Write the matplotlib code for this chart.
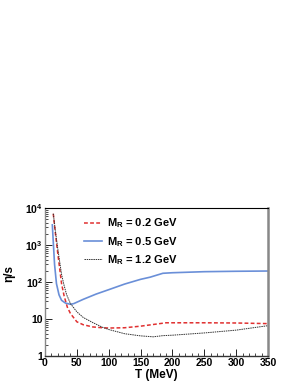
import matplotlib
matplotlib.use("Agg")
import matplotlib.pyplot as plt
import numpy as np
from matplotlib.ticker import LogLocator, NullFormatter, MultipleLocator

plt.rcParams['font.family'] = ['Liberation Sans', 'DejaVu Sans']
plt.rcParams['mathtext.fontset'] = 'custom'
plt.rcParams['mathtext.rm'] = 'Liberation Sans:bold'
plt.rcParams['mathtext.bf'] = 'Liberation Sans:bold'
plt.rcParams['mathtext.it'] = 'Liberation Sans:bold'
plt.rcParams['mathtext.default'] = 'bf'

# Data
T_02 = [13, 16, 20, 26, 30, 35, 40, 50, 60, 75, 90, 100, 125, 150, 175, 190, 220, 250, 300, 350]
eta_02 = [7000, 2300, 600, 90, 42, 21, 14, 8.4, 7.0, 6.1, 5.8, 5.7, 5.8, 6.4, 7.3, 7.9, 7.9, 7.9, 7.8, 7.5]

T_05 = [11.5, 13, 15, 18, 22, 26, 32, 40, 45, 60, 80, 100, 125, 150, 165, 185, 200, 250, 300, 350]
eta_05 = [3500, 1200, 300, 90, 45, 32, 27, 25, 26, 34, 47, 62, 88, 118, 135, 172, 178, 190, 195, 198]

T_12 = [13, 16, 20, 26, 30, 34, 40, 50, 60, 75, 90, 100, 125, 150, 170, 185, 200, 250, 300, 350]
eta_12 = [7000, 2600, 800, 160, 80, 45, 26, 15.6, 11, 8.0, 6.0, 5.2, 4.0, 3.5, 3.3, 3.55, 3.65, 4.2, 5.0, 6.6]

labels = [r'$M_R$ = 0.2 GeV', r'$M_R$ = 0.5 GeV', r'$M_R$ = 1.2 GeV']
ytick_vals = [1, 10, 100, 1000, 10000]
ytick_labels = ['1', '10', r'$10^{2}$', r'$10^{3}$', r'$10^{4}$']

fig = plt.figure(figsize=(2.98, 3.85), dpi=100)
ax = fig.add_axes([45/298, 1-356/385, (268-45)/298, (356-208)/385])

ax.plot(T_02, eta_02, color='#e03030', ls=(0, (2.5, 1.5)), lw=1.1, label=labels[0])
ax.plot(T_05, eta_05, color='#6a8fd8', ls='-', lw=1.2, label=labels[1])
ax.plot(T_12, eta_12, color='#333333', ls=(0, (1.5, 0.8)), lw=0.7, label=labels[2])

ax.set_yscale('log')
ax.set_xlim(0, 350)
ax.set_ylim(1, 1e4)

ax.set_yticks(ytick_vals)
ax.set_yticklabels(ytick_labels)
ax.yaxis.set_minor_locator(LogLocator(base=10, subs=np.arange(2, 10)))
ax.yaxis.set_minor_formatter(NullFormatter())
ax.xaxis.set_major_locator(MultipleLocator(50))
ax.xaxis.set_minor_locator(MultipleLocator(10))

ax.tick_params(which='both', direction='in', top=False, right=False, labelsize=7.5, pad=1.5)
ax.tick_params(which='major', length=5, width=0.6)
ax.tick_params(which='minor', length=2.5, width=0.5)
for lab in ax.get_xticklabels() + ax.get_yticklabels():
    lab.set_fontweight('bold')

ax.spines['left'].set_color('#888888')
ax.spines['left'].set_linewidth(1.0)
ax.spines['right'].set_color('#888888')
ax.spines['right'].set_linewidth(1.8)
ax.spines['top'].set_color('black')
ax.spines['top'].set_linewidth(0.8)
ax.spines['bottom'].set_color('#333333')
ax.spines['bottom'].set_linewidth(1.0)

ax.set_xlabel('T (MeV)', fontsize=8.5, fontweight='bold', labelpad=1)
ax.set_ylabel('η/s', fontsize=8.5, fontweight='bold', labelpad=2)
ax.yaxis.set_label_coords(-0.135, 0.56)

leg = ax.legend(loc='upper left', bbox_to_anchor=(0.13, 1.01), frameon=False,
                prop={'size': 8, 'weight': 'bold'}, handlelength=1.6, handletextpad=0.45,
                labelspacing=0.4)

fig.savefig('out.png', dpi=100)
